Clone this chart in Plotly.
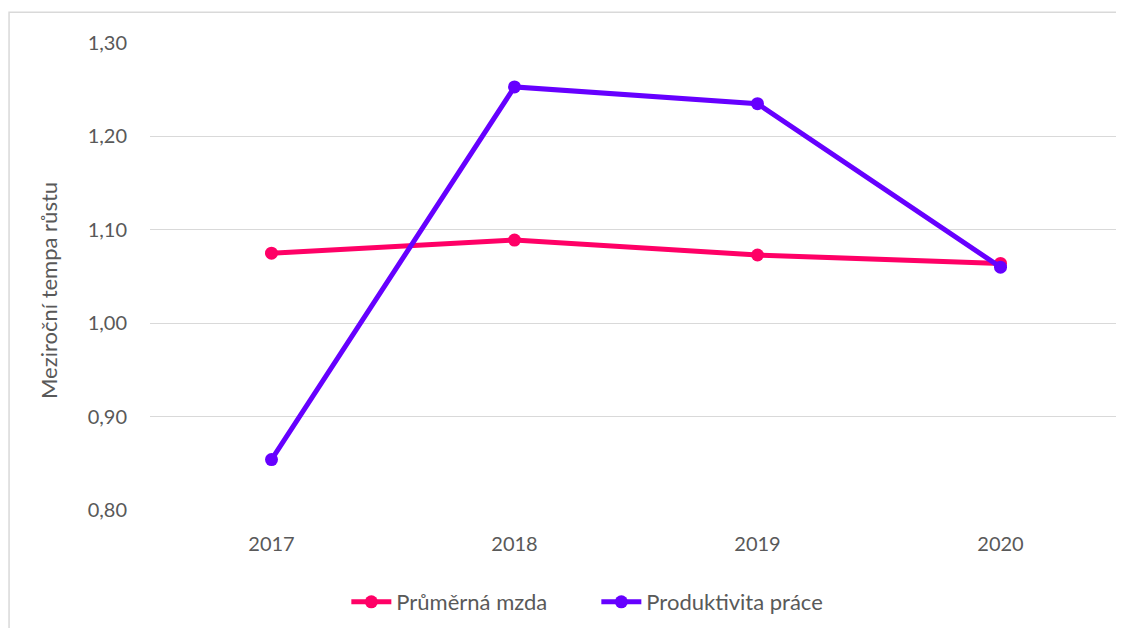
import plotly.graph_objects as go

years = ["2017", "2018", "2019", "2020"]
prumerna_mzda = [1.075, 1.089, 1.073, 1.064]
produktivita = [0.854, 1.253, 1.235, 1.060]
y_ticks = [0.80, 0.90, 1.00, 1.10, 1.20, 1.30]

font_fam = "Lato, Open Sans, sans-serif"

fig = go.Figure()
fig.add_trace(go.Scatter(x=years, y=prumerna_mzda, name="Průměrná mzda", mode="lines+markers",
                         line=dict(color="#FF0066", width=5), marker=dict(size=13, color="#FF0066")))
fig.add_trace(go.Scatter(x=years, y=produktivita, name="Produktivita práce", mode="lines+markers",
                         line=dict(color="#6600FF", width=5), marker=dict(size=13, color="#6600FF")))

fig.update_layout(
    width=1116, height=620,
    margin=dict(l=142, r=2, t=35, b=118),
    paper_bgcolor="white", plot_bgcolor="white",
    separators=", ",
    font=dict(family=font_fam, color="#595959", size=20),
    showlegend=True,
    legend=dict(orientation="h", x=0.202, xanchor="left", y=-0.197, yanchor="middle",
                font=dict(size=22, color="#595959"), itemwidth=40,
                entrywidth=195, entrywidthmode="pixels"),
    xaxis=dict(type="category", showgrid=False, showline=False, ticks="", zeroline=False,
               ticklabelstandoff=20,
               tickfont=dict(size=20, color="#595959"), range=[-0.5, 3.5]),
    yaxis=dict(range=[0.80, 1.30], tickvals=y_ticks, tickformat=".2f", showgrid=True,
               gridcolor="#D9D9D9", gridwidth=1.3, zeroline=False, showline=False, ticks="",
               ticklabelstandoff=22,
               tickfont=dict(size=20, color="#595959")),
    annotations=[dict(text="Meziroční tempa růstu", xref="paper", yref="paper", x=-0.105, y=0.471,
                      xanchor="center", yanchor="middle", textangle=-90, showarrow=False,
                      font=dict(size=22, color="#595959"))],
    shapes=[dict(type="rect", xref="paper", yref="paper", x0=-0.145, x1=1.2, y0=-0.4, y1=1.066,
                 line=dict(color="#D9D9D9", width=1.5), fillcolor="rgba(0,0,0,0)", layer="below")],
)
fig.write_html("out.html")
